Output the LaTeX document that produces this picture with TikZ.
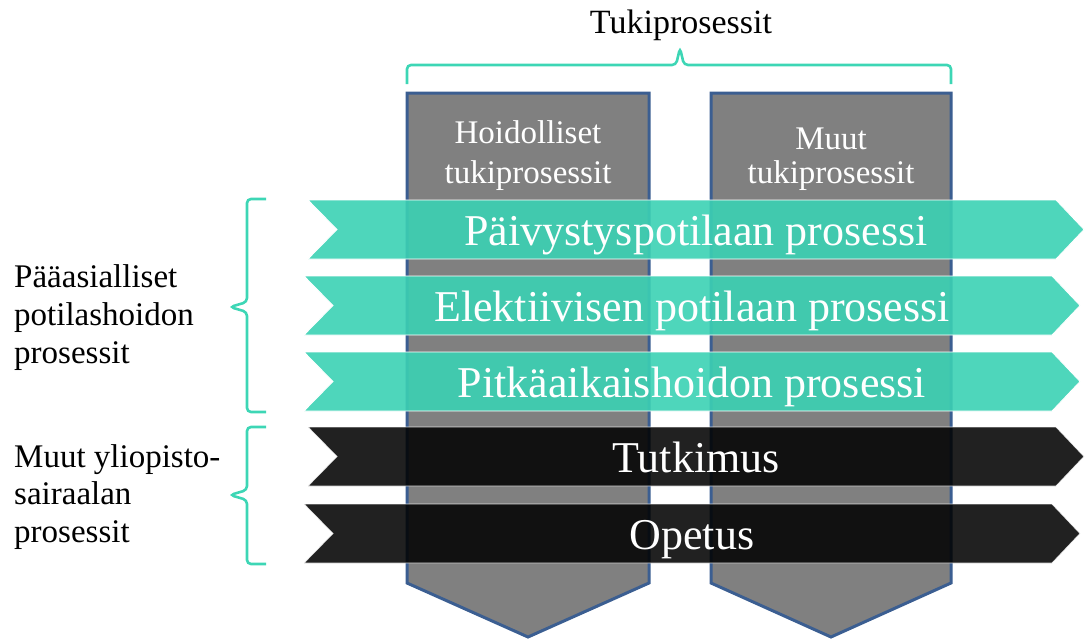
\documentclass[tikz,border=0pt]{standalone}
\usepackage{fontspec}
\setmainfont{Liberation Serif}
\usetikzlibrary{calc}
\definecolor{greyfill}{HTML}{808080}
\definecolor{greyedge}{HTML}{3B5E91}
\definecolor{tealband}{RGB}{59,209,180}
\definecolor{bracecol}{RGB}{61,214,181}
\definecolor{darkband}{RGB}{2,2,2}

% a horizontal band with a notched tail and a pointed head
% #1 name, #2 left, #3 right tip, #4 top, #5 bottom, #6 style, #7 text
\newcommand\chevronband[7]{%
  \path[#6] (#2,#4) -- (#3-28,#4) -- (#3,{(#4+#5)/2}) -- (#3-28,#5)
    -- (#2,#5) -- (#2+29,{(#4+#5)/2}) -- cycle;
  \node[bandtext] (#1) at ({(#2+#3)/2},{(#4+#5)/2+16}) {#7};
}

\begin{document}
\begin{tikzpicture}[x=1pt,y=-1pt,
  supportarrow/.style={fill=greyfill,draw=greyedge,line width=3pt,line join=miter},
  tealstyle/.style={fill=tealband,fill opacity=0.9,draw=white,line width=0.8pt},
  darkstyle/.style={fill=darkband,fill opacity=0.88,draw=white,draw opacity=0.8,line width=0.8pt},
  bandtext/.style={anchor=base,text=white,inner sep=0pt,font=\fontsize{44}{50}\selectfont},
  boxtext/.style={anchor=base,text=white,inner sep=0pt,font=\fontsize{33}{40}\selectfont},
  sidetext/.style={anchor=base west,inner sep=0pt,font=\fontsize{33}{38}\selectfont},
  brace/.style={draw=bracecol,line width=2.6pt,rounded corners=4pt}]
\useasboundingbox (0,0) rectangle (1085,641);

% support processes: two downward arrows
\path[supportarrow] (407,93) -- (649,93) -- (649,583) -- (528,637) -- (407,583) -- cycle;
\path[supportarrow] (711,93) -- (951,93) -- (951,583) -- (831,637) -- (711,583) -- cycle;
\node[boxtext] (hoid1) at (528,143) {Hoidolliset};
\node[boxtext] (hoid2) at (528,183) {tukiprosessit};
\node[boxtext] (muut1) at (831,149) {Muut};
\node[boxtext] (muut2) at (831,183) {tukiprosessit};

% main patient care processes
\chevronband{paiv}{308}{1084}{200}{259}{tealstyle}{Päivystyspotilaan prosessi}
\chevronband{elek}{304}{1080}{276}{335}{tealstyle}{Elektiivisen potilaan prosessi}
\chevronband{pitk}{304}{1080}{352}{411}{tealstyle}{Pitkäaikaishoidon prosessi}
% other hospital processes
\chevronband{tutk}{308}{1084}{427}{486}{darkstyle}{Tutkimus}
\chevronband{opet}{304}{1080}{504}{563}{darkstyle}{Opetus}

% top brace and its label
\node[anchor=base,inner sep=0pt,font=\fontsize{34}{40}\selectfont] (tuki) at (681,33) {Tukiprosessit};
\coordinate (tb) at (680,48);
\draw[brace] (407,84) -- (407,65) -- (676,65) -- (tb) -- (684,65) -- (951,65) -- (951,84);

% left braces and labels
\coordinate (lb1) at (230,307);
\draw[brace] (266,199) -- (247,199) -- (247,302) -- (lb1) -- (247,312) -- (247,412) -- (266,412);
\coordinate (lb2) at (230,495);
\draw[brace] (266,427) -- (247,427) -- (247,490) -- (lb2) -- (247,500) -- (247,564) -- (266,564);

\node[sidetext] (p1) at (14,287) {Pääasialliset};
\node[sidetext] (p2) at (14,325) {potilashoidon};
\node[sidetext] (p3) at (14,363) {prosessit};
\node[sidetext] (m1) at (14,467) {Muut yliopisto-};
\node[sidetext] (m2) at (14,504) {sairaalan};
\node[sidetext] (m3) at (14,542) {prosessit};
\end{tikzpicture}
\end{document}
